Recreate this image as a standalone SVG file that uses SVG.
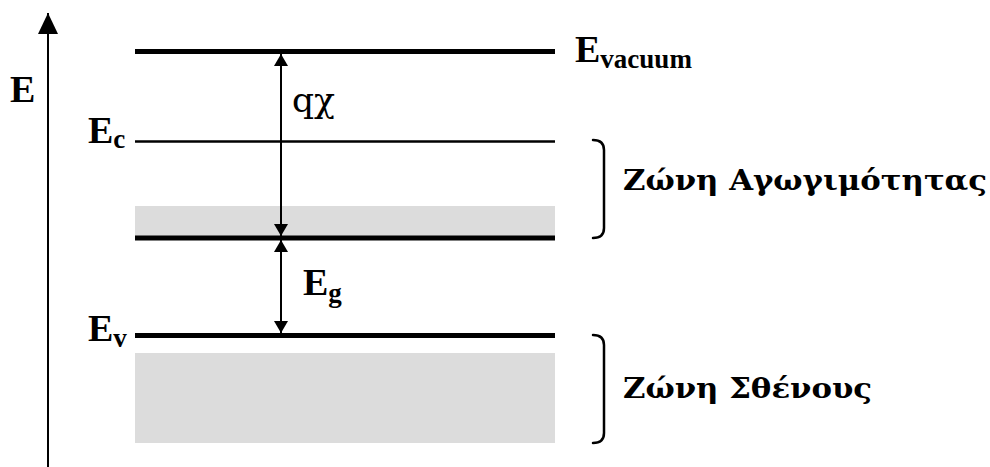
<svg xmlns="http://www.w3.org/2000/svg" width="990" height="467" viewBox="0 0 990 467">
<style>
.lbl{font-family:"Liberation Serif","Times New Roman",serif;font-weight:bold;fill:#000}
.gr{font-family:"DejaVu Serif","Liberation Serif",serif;font-weight:bold;fill:#000}
.big{font-size:38px}
.sub{font-size:27px}
.zone{font-size:28px}
.thick{stroke:#000;stroke-width:5}
.thin{stroke:#000;stroke-width:2.5}
.band{fill:#dcdcdc}
.conn{stroke:#000;stroke-width:2;fill:none}
.brace{stroke:#000;stroke-width:2.5;fill:none;stroke-linecap:round}
</style>
<defs>
<marker id="ah" viewBox="0 0 12 14" refX="12" refY="7" markerWidth="12" markerHeight="14" markerUnits="userSpaceOnUse" orient="auto">
<path d="M0,0 L12,7 L0,14 Z" fill="#000"/>
</marker>
<marker id="ahAxis" viewBox="0 0 21 20" refX="21" refY="10" markerWidth="21" markerHeight="20" markerUnits="userSpaceOnUse" orient="auto">
<path d="M0,0 L21,10 L0,20 Z" fill="#000"/>
</marker>
</defs>
<rect width="990" height="467" fill="#fff"/>
<g id="bands">
<rect class="band" x="135" y="206" width="420" height="30"/>
<rect class="band" x="135" y="353" width="420" height="90"/>
</g>
<g id="axis">
<line class="conn" x1="48" y1="467" x2="48" y2="13" marker-end="url(#ahAxis)"/>
<text class="lbl big" x="10" y="102">E</text>
</g>
<g id="vacuum">
<line class="thick" x1="135" y1="51.5" x2="555" y2="51.5"/>
<text class="lbl big" x="575" y="62">E<tspan class="sub" dy="6">vacuum</tspan></text>
</g>
<g id="ec">
<line class="thin" x1="135" y1="141.5" x2="555" y2="141.5"/>
<text class="lbl big" x="88" y="143">E<tspan class="sub" dy="5">c</tspan></text>
</g>
<g id="cband-edge">
<line class="thick" x1="135" y1="238" x2="555" y2="238"/>
</g>
<g id="ev">
<line class="thick" x1="135" y1="335.5" x2="555" y2="335.5"/>
<text class="lbl big" x="88" y="341">E<tspan class="sub" dy="6">v</tspan></text>
</g>
<g id="conduction-zone">
<path class="brace" d="M593,140 Q604,140 604,150 L604,228 Q604,238 593,238"/>
<text class="gr zone" x="623" y="190" textLength="364" lengthAdjust="spacingAndGlyphs">Ζώνη Αγωγιμότητας</text>
</g>
<g id="valence-zone">
<path class="brace" d="M593,335 Q604,335 604,345 L604,433 Q604,443 593,443"/>
<text class="gr zone" x="623" y="398" textLength="249" lengthAdjust="spacingAndGlyphs">Ζώνη Σθένους</text>
</g>
<g id="connectors">
<line class="conn" x1="281" y1="145" x2="281" y2="54" marker-end="url(#ah)"/>
<line class="conn" x1="281" y1="145" x2="281" y2="236" marker-end="url(#ah)"/>
<line class="conn" x1="281" y1="285" x2="281" y2="240" marker-end="url(#ah)"/>
<line class="conn" x1="281" y1="285" x2="281" y2="333" marker-end="url(#ah)"/>
</g>
<g id="labels">
<text x="292" y="112" textLength="43" lengthAdjust="spacingAndGlyphs" style="font-family:'DejaVu Serif','Liberation Serif',serif;font-size:34px">qχ</text>
<text class="lbl big" x="303" y="295">E<tspan class="sub" dy="7">g</tspan></text>
</g>
</svg>
